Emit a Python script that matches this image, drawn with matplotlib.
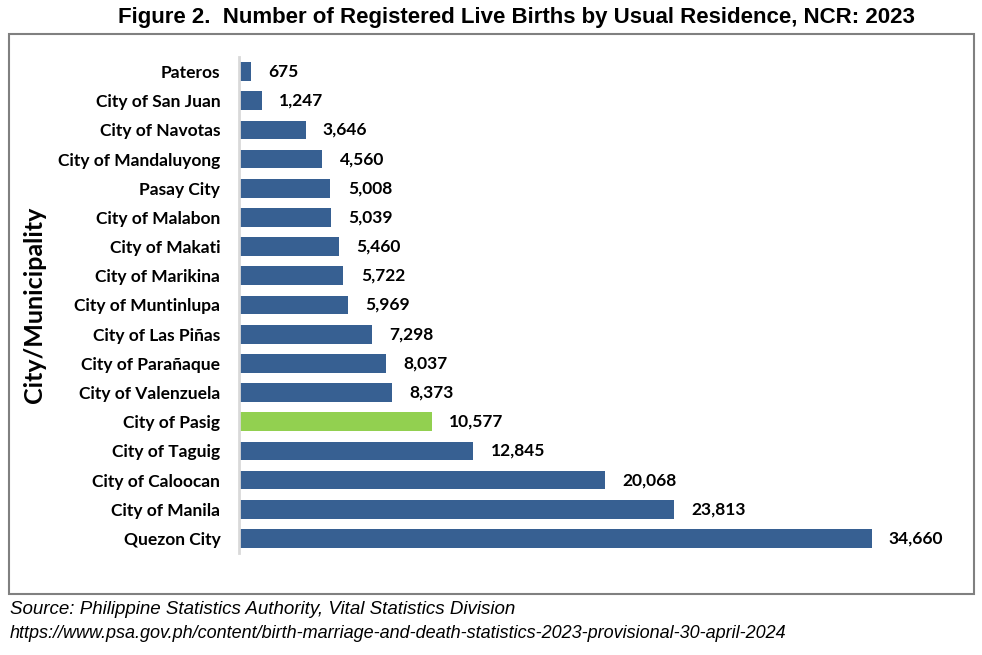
import matplotlib
matplotlib.use("Agg")
import matplotlib.pyplot as plt
from matplotlib.patches import Rectangle

categories = ["Pateros", "City of San Juan", "City of Navotas", "City of Mandaluyong",
              "Pasay City", "City of Malabon", "City of Makati", "City of Marikina",
              "City of Muntinlupa", "City of Las Piñas", "City of Parañaque",
              "City of Valenzuela", "City of Pasig", "City of Taguig", "City of Caloocan",
              "City of Manila", "Quezon City"]
values = [675, 1247, 3646, 4560, 5008, 5039, 5460, 5722, 5969, 7298, 8037, 8373,
          10577, 12845, 20068, 23813, 34660]
highlight = "City of Pasig"

W, H = 982, 655
fig = plt.figure(figsize=(W / 100, H / 100), dpi=100)

# outer box
fig.patches.append(Rectangle((9 / W, 1 - 594 / H), (974 - 9) / W, (594 - 34) / H,
                             transform=fig.transFigure, fill=False,
                             edgecolor="#808080", linewidth=1.5))

ax = fig.add_axes([239 / W, 1 - 553 / H, (969 - 239) / W, (553 - 57) / H])
colors = ["#92D050" if c == highlight else "#376092" for c in categories]
ypos = list(range(len(categories)))
ax.barh(ypos, values, height=0.64, color=colors)
ax.set_ylim(len(categories) - 0.5, -0.5)
ax.set_xlim(0, 40000)
ax.set_yticks(ypos)
ax.set_yticklabels(categories, fontfamily="Lato", fontweight="bold", fontsize=12.5)
ax.tick_params(axis="y", length=0, pad=13.5)
ax.set_xticks([])
for s in ["top", "right", "bottom"]:
    ax.spines[s].set_visible(False)
ax.spines["left"].set_color("#D9D9D9")
ax.spines["left"].set_linewidth(2)
for y, v in zip(ypos, values):
    ax.annotate(f"{v:,}", xy=(v, y), xytext=(12.5, 0), textcoords="offset points",
                va="center", ha="left", fontfamily="Lato", fontweight="bold", fontsize=12.5)

fig.text(35 / W, 1 - 305 / H, "City/Municipality", rotation=90, ha="center", va="center",
         fontfamily="Lato", fontweight="bold", fontsize=18)

fig.text(516 / W, 1 - 18 / H, "Figure 2.  Number of Registered Live Births by Usual Residence, NCR: 2023",
         ha="center", va="center", fontfamily="Liberation Sans",
         fontweight="bold", fontsize=16)
fig.text(10 / W, 1 - 609 / H, "Source: Philippine Statistics Authority, Vital Statistics Division",
         ha="left", va="center", fontfamily="Liberation Sans",
         style="italic", fontsize=13.5)
fig.text(10 / W, 1 - 633 / H,
         "https://www.psa.gov.ph/content/birth-marriage-and-death-statistics-2023-provisional-30-april-2024",
         ha="left", va="center", fontfamily="Liberation Sans",
         style="italic", fontsize=13)

fig.savefig("out.png", dpi=100)
